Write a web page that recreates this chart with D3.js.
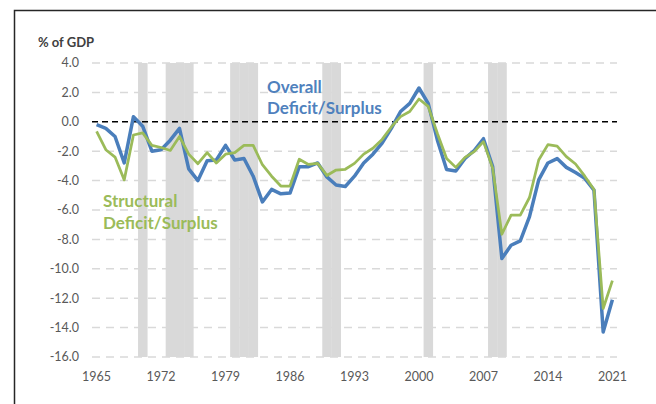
<!DOCTYPE html>
<html>
<head>
<meta charset="utf-8">
<script src="https://cdn.jsdelivr.net/npm/d3@7"></script>
<style>
  body { margin: 0; background: #fff; }
  svg { display: block; font-family: Lato, "Open Sans", sans-serif; }
</style>
</head>
<body>
<svg id="chart" width="656" height="404"></svg>
<script>
// years on the category axis
const years = d3.range(1965, 2022);

// overall deficit/surplus, % of GDP
const overall = [
  -0.2, -0.45, -1.0, -2.8, 0.35, -0.3, -2.0, -1.9, -1.25, -0.45,
  -3.2, -4.0, -2.65, -2.6, -1.6, -2.6, -2.5, -3.7, -5.45, -4.6,
  -4.9, -4.85, -3.05, -3.05, -2.8, -3.75, -4.3, -4.4, -3.7, -2.8,
  -2.2, -1.45, -0.45, 0.7, 1.25, 2.3, 1.25, -1.25, -3.25, -3.35,
  -2.5, -1.95, -1.15, -3.05, -9.3, -8.4, -8.1, -6.45, -3.95, -2.8,
  -2.5, -3.1, -3.45, -3.85, -4.65, -14.3, -12.1
];

// structural deficit/surplus, % of GDP
const structural = [
  -0.65, -1.9, -2.4, -3.95, -0.9, -0.75, -1.6, -1.75, -1.95, -1.0,
  -2.2, -2.85, -2.1, -2.8, -2.2, -2.1, -1.6, -1.6, -2.92, -3.7,
  -4.37, -4.37, -2.55, -2.9, -2.83, -3.65, -3.28, -3.23, -2.83, -2.2,
  -1.8, -1.2, -0.35, 0.35, 0.7, 1.55, 1.05, -0.8, -2.5, -3.1,
  -2.42, -2.03, -1.35, -3.15, -7.65, -6.35, -6.35, -5.15, -2.6, -1.55,
  -1.65, -2.37, -2.87, -3.7, -4.6, -12.7, -10.8
];

// recession years (shaded)
const recessions = [1970, 1973, 1974, 1975, 1980, 1981, 1982, 1990, 1991, 2001, 2008, 2009];

const yTicks = d3.range(-16, 4.01, 2);
const xLabelYears = d3.range(1965, 2022, 7);

const svg = d3.select("#chart");

// frame
svg.append("rect")
  .attr("x", 14.5).attr("y", 10.5)
  .attr("width", 700).attr("height", 500)
  .attr("fill", "none")
  .attr("stroke", "#262626")
  .attr("stroke-width", 1.5);

const x = d3.scaleBand()
  .domain(years)
  .range([92, 617])
  .padding(0);

const y = d3.scaleLinear()
  .domain([-16, 4])
  .range([357, 63]);

const cx = d => x(d) + x.bandwidth() / 2;

// recession bars
svg.append("g")
  .selectAll("rect")
  .data(recessions)
  .join("rect")
  .attr("x", d => x(d))
  .attr("width", x.bandwidth() + 0.3)
  .attr("y", y(4))
  .attr("height", y(-16) - y(4))
  .attr("fill", "#d9d9d9");

// gridlines
svg.append("g")
  .selectAll("line")
  .data(yTicks.filter(v => v !== 0))
  .join("line")
  .attr("x1", 92).attr("x2", 617)
  .attr("y1", d => y(d)).attr("y2", d => y(d))
  .attr("stroke", "#d9d9d9")
  .attr("stroke-width", 1.5)
  .attr("stroke-dasharray", "8,6");

// zero line
svg.append("line")
  .attr("x1", 92).attr("x2", 617)
  .attr("y1", y(0)).attr("y2", y(0))
  .attr("stroke", "#000")
  .attr("stroke-width", 1.5)
  .attr("stroke-dasharray", "6,4");

// y tick labels
svg.append("g")
  .selectAll("text")
  .data(yTicks)
  .join("text")
  .attr("x", 79)
  .attr("y", d => y(d))
  .attr("dy", "0.35em")
  .attr("text-anchor", "end")
  .attr("font-size", 12.5)
  .attr("fill", "#595959")
  .text(d => d.toFixed(1));

// x tick labels
svg.append("g")
  .selectAll("text")
  .data(xLabelYears)
  .join("text")
  .attr("x", d => cx(d))
  .attr("y", 380.5)
  .attr("text-anchor", "middle")
  .attr("font-size", 12.5)
  .attr("fill", "#595959")
  .text(d => d);

// axis title
svg.append("text")
  .attr("x", 38).attr("y", 47)
  .attr("font-size", 13)
  .attr("font-weight", 700)
  .attr("fill", "#404040")
  .text("% of GDP");

const line = d3.line()
  .x((d, i) => cx(years[i]))
  .y(d => y(d));

svg.append("path")
  .datum(overall)
  .attr("d", line)
  .attr("fill", "none")
  .attr("stroke", "#4a7ebb")
  .attr("stroke-width", 3.5)
  .attr("stroke-linejoin", "round");

svg.append("path")
  .datum(structural)
  .attr("d", line)
  .attr("fill", "none")
  .attr("stroke", "#9bbb59")
  .attr("stroke-width", 2.75)
  .attr("stroke-linejoin", "round");

// series labels
function label(lines, x0, y0, color) {
  const t = svg.append("text")
    .attr("x", x0).attr("y", y0)
    .attr("font-size", 17)
    .attr("font-weight", 700)
    .attr("fill", color);
  lines.forEach((s, i) => {
    t.append("tspan")
      .attr("x", x0)
      .attr("dy", i === 0 ? 0 : 21.5)
      .text(s);
  });
}

label(["Overall", "Deficit/Surplus"], 267, 92.5, "#4f81bd");
label(["Structural", "Deficit/Surplus"], 103, 207, "#9bbb59");
</script>
</body>
</html>
